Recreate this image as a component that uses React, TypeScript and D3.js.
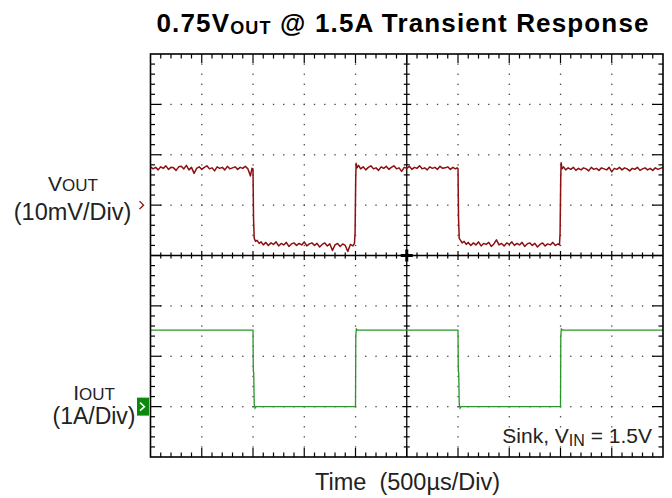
import React from "react";
import * as d3 from "d3";

// ---- data ----
const X_DIVS = 10;
const Y_DIVS = 8;
const TIME_PER_DIV = 500; // µs
const VOUT_REF_DIV = 1; // VOUT ground marker (divisions from centre)
const IOUT_REF_DIV = -3; // IOUT ground marker
const VOUT_MV_PER_DIV = 10;
const IOUT_A_PER_DIV = 1;

// [time µs, mV]
const voutTrace: [number, number][] = [
  [0, 7.6], [25, 7.2], [50, 7.5], [75, 7.0], [100, 7.6], [125, 7.3], [150, 7.8], [175, 7.1], [200, 7.5], [225, 7.4],
  [250, 6.9], [275, 7.6], [300, 7.7], [325, 7.2], [350, 7.9], [375, 7.0], [400, 7.5], [425, 6.3], [450, 7.3], [475, 7.6],
  [500, 7.1], [525, 7.5], [550, 7.8], [575, 7.2], [600, 7.4], [625, 6.8], [650, 7.6], [675, 7.3], [700, 7.5], [725, 7.0],
  [750, 7.7], [775, 7.2], [800, 7.4], [825, 7.6], [850, 7.1], [875, 7.5], [900, 7.3], [925, 7.7], [950, 7.2], [975, 5.8],
  [990, 7.3], [1000, 7.2], [1005, -2.5], [1012, -6.6], [1025, -7.2], [1040, -7.0], [1060, -7.6], [1080, -7.3], [1100, -7.9],
  [1125, -7.4], [1150, -8.0], [1175, -7.5], [1200, -7.8], [1225, -7.3], [1250, -8.1], [1275, -7.6], [1300, -7.9], [1325, -7.4],
  [1350, -8.2], [1375, -7.7], [1400, -7.5], [1425, -8.0], [1450, -7.6], [1475, -7.9], [1500, -7.3], [1525, -8.1], [1550, -7.7],
  [1575, -7.5], [1600, -8.0], [1625, -7.6], [1650, -8.3], [1675, -7.8], [1700, -7.5], [1725, -8.1], [1750, -7.7], [1775, -9.0],
  [1800, -7.9], [1825, -7.6], [1850, -8.2], [1875, -7.7], [1900, -8.0], [1925, -9.2], [1950, -7.8], [1975, -8.1], [1990, -7.6],
  [1996, -5.5], [2002, 5.0], [2006, 8.3], [2015, 7.4], [2030, 7.9], [2050, 7.2], [2075, 7.6], [2100, 7.0], [2125, 7.5],
  [2150, 7.8], [2175, 7.2], [2200, 7.4], [2225, 6.9], [2250, 7.6], [2275, 7.3], [2300, 7.7], [2325, 7.1], [2350, 7.5],
  [2375, 7.8], [2400, 7.2], [2425, 7.4], [2450, 6.7], [2475, 7.5], [2500, 7.3], [2525, 7.7], [2550, 7.1], [2575, 7.5],
  [2600, 7.3], [2625, 7.8], [2650, 7.2], [2675, 7.4], [2700, 7.0], [2725, 7.6], [2750, 7.3], [2775, 7.5], [2800, 7.1],
  [2825, 7.7], [2850, 7.3], [2875, 7.4], [2900, 7.6], [2925, 7.1], [2950, 7.5], [2975, 7.2], [2990, 7.4],
  [3000, 7.2], [3005, -2.5], [3012, -6.6], [3025, -7.0], [3040, -7.5], [3060, -7.2], [3080, -7.8], [3100, -7.4],
  [3125, -8.0], [3150, -7.5], [3175, -7.9], [3200, -7.3], [3225, -8.1], [3250, -7.6], [3275, -7.8], [3300, -7.4],
  [3325, -8.2], [3350, -7.7], [3375, -6.9], [3400, -7.9], [3425, -7.6], [3450, -8.1], [3475, -7.5], [3500, -7.8],
  [3525, -7.3], [3550, -8.0], [3575, -7.6], [3600, -7.9], [3625, -7.4], [3650, -8.2], [3675, -7.7], [3700, -7.5],
  [3725, -8.0], [3750, -7.6], [3775, -8.3], [3800, -7.8], [3825, -7.5], [3850, -8.1], [3875, -7.7], [3900, -7.9],
  [3925, -7.4], [3950, -8.0], [3975, -7.7], [3990, -7.9],
  [3996, -5.5], [4002, 5.0], [4006, 8.4], [4015, 7.2], [4030, 7.6], [4050, 7.0], [4075, 7.4], [4100, 7.1], [4125, 7.5],
  [4150, 6.9], [4175, 7.3], [4200, 7.0], [4225, 7.4], [4250, 7.2], [4275, 6.8], [4300, 7.5], [4325, 7.1], [4350, 7.3],
  [4375, 6.9], [4400, 7.4], [4425, 7.2], [4450, 7.0], [4475, 7.5], [4500, 6.6], [4525, 7.3], [4550, 7.1], [4575, 7.5],
  [4600, 7.0], [4625, 7.4], [4650, 7.2], [4675, 6.8], [4700, 7.3], [4725, 7.1], [4750, 7.5], [4775, 6.9], [4800, 7.2],
  [4825, 7.4], [4850, 7.0], [4875, 7.3], [4900, 6.9], [4925, 7.4], [4950, 7.1], [4975, 7.3], [5000, 7.5],
];

// [time µs, A]
const ioutTrace: [number, number][] = [
  [0, 1.52], [1000, 1.52], [1003, 0.7], [1007, 0.68], [1012, 0.05], [1020, -0.03], [1030, 0],
  [2000, 0], [2003, 1.4], [2008, 1.54], [2020, 1.52], [3000, 1.52], [3003, 0.7], [3007, 0.68],
  [3012, 0.05], [3020, -0.03], [3030, 0], [4000, 0], [4003, 1.4], [4008, 1.54], [4020, 1.52], [5000, 1.52],
];

// ---- layout ----
const W = 672;
const H = 498;
const L = 150.5;
const R = 663;
const T = 54;
const B = 457;

export default function App() {
  const x = d3.scaleLinear().domain([0, X_DIVS * TIME_PER_DIV]).range([L, R]);
  const y = d3.scaleLinear().domain([-Y_DIVS / 2, Y_DIVS / 2]).range([B, T]);
  const xDiv = d3.scaleLinear().domain([0, X_DIVS]).range([L, R]);

  const cx = xDiv(X_DIVS / 2);
  const cy = y(0);

  const voutLine = d3
    .line<[number, number]>()
    .x((d) => x(d[0]))
    .y((d) => y(VOUT_REF_DIV + d[1] / VOUT_MV_PER_DIV));
  const ioutLine = d3
    .line<[number, number]>()
    .x((d) => x(d[0]))
    .y((d) => y(IOUT_REF_DIV + d[1] / IOUT_A_PER_DIV));

  const minorX = d3.range(1, X_DIVS * 5).map((i) => i / 5);
  const minorY = d3.range(1, Y_DIVS * 5).map((i) => i / 5 - Y_DIVS / 2);
  const majorX = d3.range(1, X_DIVS).filter((i) => i !== X_DIVS / 2);
  const majorY = d3.range(-Y_DIVS / 2 + 1, Y_DIVS / 2).filter((i) => i !== 0);

  const dots: React.ReactNode[] = [];
  majorX.forEach((gx) => {
    minorY.forEach((gy, j) => {
      dots.push(<rect key={`vx${gx}-${j}`} x={xDiv(gx) - 0.6} y={y(gy) - 0.6} width={1.3} height={1.3} fill="#444" />);
    });
  });
  majorY.forEach((gy) => {
    minorX.forEach((gx, j) => {
      dots.push(<rect key={`hy${gy}-${j}`} x={xDiv(gx) - 0.6} y={y(gy) - 0.6} width={1.3} height={1.3} fill="#444" />);
    });
  });

  const ticks: React.ReactNode[] = [];
  minorX.forEach((gx, i) => {
    const major = Math.abs(gx - Math.round(gx)) < 1e-6;
    const px = xDiv(gx);
    const len = major ? 9 : 4.5;
    ticks.push(<line key={`tt${i}`} x1={px} x2={px} y1={T} y2={T + len} />);
    ticks.push(<line key={`tb${i}`} x1={px} x2={px} y1={B} y2={B - len} />);
    const cl = major ? 4.5 : 3;
    ticks.push(<line key={`tc${i}`} x1={px} x2={px} y1={cy - cl} y2={cy + cl} />);
  });
  minorY.forEach((gy, i) => {
    const major = Math.abs(gy - Math.round(gy)) < 1e-6;
    const py = y(gy);
    const len = major ? 11 : 4.5;
    ticks.push(<line key={`tl${i}`} x1={L} x2={L + len} y1={py} y2={py} />);
    ticks.push(<line key={`tr${i}`} x1={R} x2={R - len} y1={py} y2={py} />);
    const cl = major ? 4.5 : 3;
    ticks.push(<line key={`tm${i}`} x1={cx - cl} x2={cx + cl} y1={py} y2={py} />);
  });

  const vRef = y(VOUT_REF_DIV);
  const iRef = y(IOUT_REF_DIV);
  const font = "'Liberation Sans', Arial, sans-serif";

  return (
    <svg
      width={W}
      height={H}
      viewBox={`0 0 ${W} ${H}`}
      style={{ position: "absolute", left: 0, top: 0, background: "#fff" }}
      fontFamily={font}
    >
      <rect x={0} y={0} width={W} height={H} fill="#fff" />
      {/* title */}
      <text x={156.5} y={31.5} fontSize={26} fontWeight="bold" fill="#000" letterSpacing={1.15}>
        0.75V
        <tspan fontSize={18} dy={2}>OUT</tspan>
        <tspan dy={-2}> @ 1.5A Transient Response</tspan>
      </text>

      {/* grid dots */}
      <g>{dots}</g>

      {/* centre axes */}
      <line x1={L} x2={R} y1={cy} y2={cy} stroke="#000" strokeWidth={1.3} />
      <line x1={cx} x2={cx} y1={T} y2={B} stroke="#000" strokeWidth={1.3} />
      <line x1={cx - 6} x2={cx + 6} y1={cy} y2={cy} stroke="#000" strokeWidth={3} />
      <line x1={cx} x2={cx} y1={cy - 6} y2={cy + 6} stroke="#000" strokeWidth={3} />
      <g stroke="#000" strokeWidth={1.2}>{ticks}</g>

      {/* traces */}
      <path d={ioutLine(ioutTrace) || ""} fill="none" stroke="#2a952a" strokeWidth={1.3} />
      <path d={voutLine(voutTrace) || ""} fill="none" stroke="#8c1010" strokeWidth={1.5} strokeLinejoin="round" />

      {/* border */}
      <rect x={L} y={T} width={R - L} height={B - T} fill="none" stroke="#000" strokeWidth={1.6} />

      {/* markers */}
      <path d={`M${L - 11},${vRef - 4} L${L - 7},${vRef} L${L - 11},${vRef + 4}`} fill="none" stroke="#8c1010" strokeWidth={1.4} />
      <rect x={L - 13.5} y={iRef - 9} width={12} height={18} fill="#0a8a0a" />
      <path d={`M${L - 10.5},${iRef - 4} L${L - 6},${iRef} L${L - 10.5},${iRef + 4}`} fill="none" stroke="#fff" strokeWidth={1.5} />

      {/* channel labels */}
      <text x={73} y={191} fontSize={21} textAnchor="middle" fill="#222">
        V<tspan fontSize={17}>OUT</tspan>
      </text>
      <text x={72.5} y={220} fontSize={23.5} textAnchor="middle" fill="#222">
        (10mV/Div)
      </text>
      <text x={94} y={400} fontSize={21} textAnchor="middle" fill="#222">
        I<tspan fontSize={17}>OUT</tspan>
      </text>
      <text x={94} y={424} fontSize={23} textAnchor="middle" fill="#222">
        (1A/Div)
      </text>

      <text x={652} y={443} fontSize={21} textAnchor="end" fill="#222">
        Sink, V<tspan fontSize={16} dy={2.5}>IN</tspan>
        <tspan dy={-2.5}> = 1.5V</tspan>
      </text>

      <text x={407.5} y={490} fontSize={23.5} textAnchor="middle" fill="#222" style={{ whiteSpace: "pre" }}>
        {"Time  (500µs/Div)"}
      </text>
    </svg>
  );
}
